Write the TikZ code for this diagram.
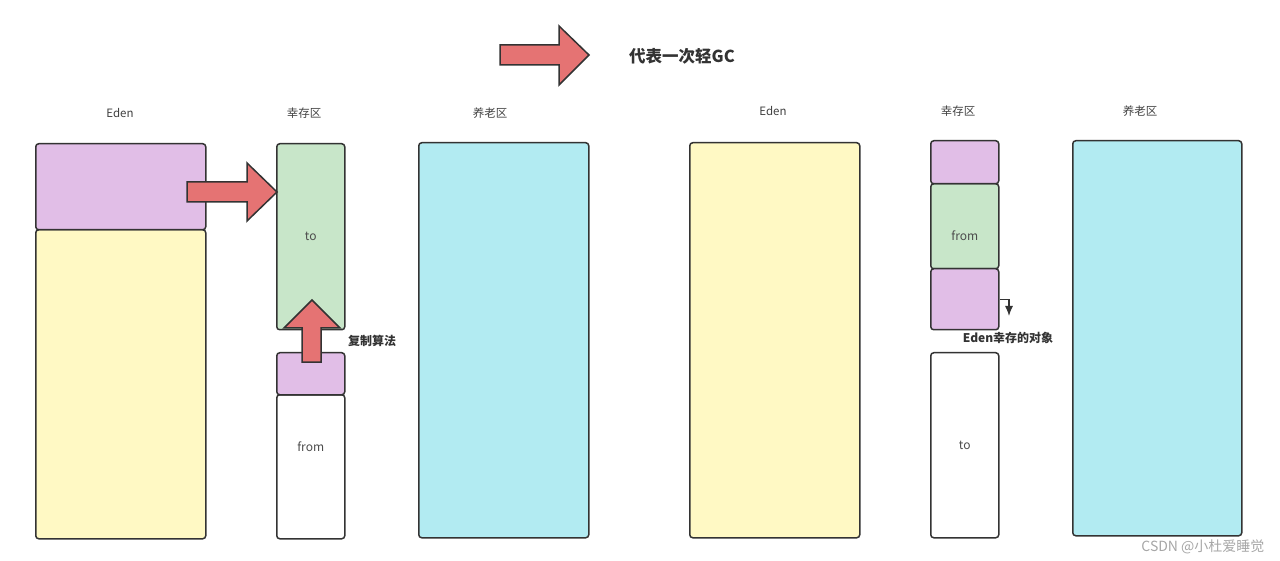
\documentclass[tikz,border=0pt]{standalone}
\usepackage{fontspec}
\setmainfont{Noto Sans CJK SC}
\usepackage{tikz}
\usetikzlibrary{arrows.meta}

\definecolor{edenyellow}{HTML}{FFF9C4}
\definecolor{objpurple}{HTML}{E1BEE7}
\definecolor{togreen}{HTML}{C8E6C9}
\definecolor{oldcyan}{HTML}{B2EBF2}
\definecolor{arrowred}{HTML}{E57373}
\definecolor{edgegray}{HTML}{333333}

\tikzset{
  area/.style={draw=edgegray, line width=1.5pt, rounded corners=3pt, anchor=north west, inner sep=0pt},
  bigarrow/.style={draw=edgegray, line width=1.5pt, fill=arrowred, line join=miter},
  areaname/.style={font=\fontsize{11.5}{13}\selectfont, text=black!75},
  innername/.style={font=\fontsize{12}{14}\selectfont, text=black!70},
  note/.style={font=\bfseries\fontsize{12}{14}\selectfont, text=black!80},
}

\begin{document}
\begin{tikzpicture}[x=1pt, y=-1pt]
  \useasboundingbox (0,0) rectangle (1280,561);

  % legend
  \draw[bigarrow] (500,45) -- (559,45) -- (559,26) -- (589,55) -- (559,85) -- (559,65) -- (500,65) -- cycle;
  \node[font=\bfseries\fontsize{16.5}{18}\selectfont, text=black!80] (legend) at (682,56) {代表一次轻GC};

  % before minor GC
  \node[areaname] (edenL) at (120,113) {Eden};
  \node[areaname] (survL) at (304,113) {幸存区};
  \node[areaname] (oldL) at (490,113) {养老区};

  \node[area, fill=edenyellow, minimum width=170pt, minimum height=309pt] (edenA) at (35,229) {};
  \node[area, fill=objpurple, minimum width=170pt, minimum height=86pt] (edenObjA) at (35,143) {};
  \node[area, fill=togreen, minimum width=68pt, minimum height=186pt] (toA) at (276,143) {};
  \node[innername] at (toA.center) {to};
  \node[area, fill=white, minimum width=68pt, minimum height=144pt] (fromA) at (276,394) {};
  \node[innername] at ([yshift=20pt]fromA.center) {from};
  \node[area, fill=objpurple, minimum width=68pt, minimum height=42pt] (fromObjA) at (276,352) {};
  \node[area, fill=oldcyan, minimum width=170pt, minimum height=395pt] (oldA) at (418,142) {};

  \draw[bigarrow] (187,182) -- (247,182) -- (247,163) -- (277,192) -- (247,221) -- (247,202) -- (187,202) -- cycle;
  \draw[bigarrow] (302,362) -- (302,328) -- (284,328) -- (312,300) -- (340,328) -- (321,328) -- (321,362) -- cycle;
  \node[note] (copy) at (372,341) {复制算法};

  % after minor GC
  \node[areaname] (edenR) at (773,111) {Eden};
  \node[areaname] (survR) at (958,111) {幸存区};
  \node[areaname] (oldR) at (1140,111) {养老区};

  \node[area, fill=edenyellow, minimum width=170pt, minimum height=395pt] (edenB) at (689,142) {};
  \node[area, fill=togreen, minimum width=68pt, minimum height=85pt] (fromB) at (930,183) {};
  \node[innername] at ([yshift=-9pt]fromB.center) {from};
  \node[area, fill=objpurple, minimum width=68pt, minimum height=43pt] (topObjB) at (930,140) {};
  \node[area, fill=objpurple, minimum width=68pt, minimum height=61pt] (fromObjB) at (930,268) {};
  \node[area, fill=white, minimum width=68pt, minimum height=185pt] (toB) at (930,352) {};
  \node[innername] at (toB.center) {to};
  \node[area, fill=oldcyan, minimum width=169pt, minimum height=395pt] (oldB) at (1072,140) {};

  \coordinate (survived) at (1009,316);
  \draw[edgegray, line width=1.2pt, -{Latex[length=10pt, width=8pt]}] (fromObjB.east) -| (survived);
  \node[note] (survivedNote) at (1008,338) {Eden幸存的对象};

  \node[anchor=east, font=\fontsize{14}{16}\selectfont, text=black!35] (mark) at (1268,547) {CSDN @小杜爱睡觉};
\end{tikzpicture}
\end{document}
